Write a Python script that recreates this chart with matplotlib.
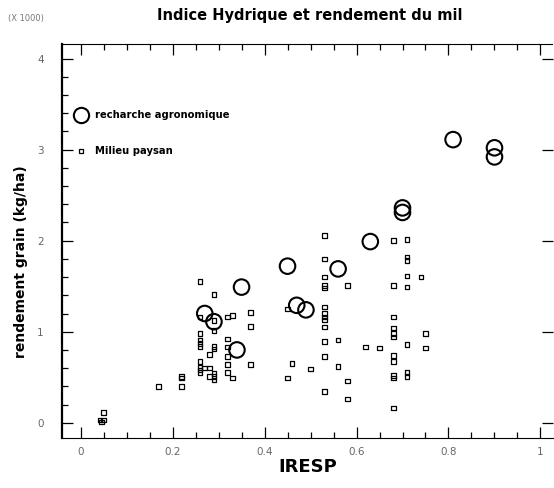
import matplotlib
matplotlib.use("Agg")
import matplotlib.pyplot as plt
from matplotlib.lines import Line2D
from matplotlib.ticker import MultipleLocator

# Recherche agronomique (large circles)
res_x = [0.27, 0.29, 0.35, 0.34, 0.45, 0.47, 0.49, 0.56, 0.63, 0.70, 0.70, 0.81, 0.90, 0.90]
res_y = [1.20, 1.11, 1.49, 0.80, 1.72, 1.29, 1.24, 1.69, 1.99, 2.36, 2.31, 3.11, 3.02, 2.92]

# Milieu paysan (small squares)
pay_x = [0.26, 0.29, 0.26, 0.32, 0.33, 0.37, 0.37, 0.29, 0.29, 0.26, 0.26, 0.26, 0.26,
         0.29, 0.29, 0.32, 0.32, 0.32, 0.28, 0.26, 0.26, 0.26, 0.26, 0.27, 0.28, 0.32,
         0.32, 0.29, 0.29, 0.29, 0.28, 0.33, 0.37, 0.22, 0.22, 0.22, 0.17, 0.042, 0.05,
         0.045, 0.05, 0.45, 0.46, 0.45, 0.50,
         0.53, 0.53, 0.53, 0.53, 0.53, 0.58, 0.53, 0.53, 0.53, 0.53, 0.53, 0.53, 0.56,
         0.53, 0.56, 0.53, 0.58, 0.58, 0.62, 0.65, 0.68, 0.71, 0.71, 0.71, 0.71, 0.74,
         0.68, 0.71, 0.68, 0.68, 0.68, 0.68, 0.75, 0.71, 0.75, 0.68, 0.68, 0.68, 0.68,
         0.71, 0.71, 0.68]
pay_y = [1.55, 1.41, 1.16, 1.16, 1.18, 1.21, 1.06, 1.12, 1.01, 0.98, 0.91, 0.87, 0.84,
         0.84, 0.81, 0.92, 0.83, 0.73, 0.75, 0.67, 0.61, 0.58, 0.55, 0.60, 0.60, 0.64,
         0.55, 0.54, 0.51, 0.47, 0.51, 0.49, 0.64, 0.51, 0.49, 0.40, 0.40, 0.03, 0.03,
         0.01, 0.11, 1.25, 0.65, 0.49, 0.59,
         2.06, 1.80, 1.60, 1.51, 1.48, 1.51, 1.27, 1.20, 1.16, 1.13, 1.05, 0.89, 0.91,
         0.73, 0.62, 0.34, 0.46, 0.26, 0.83, 0.82, 2.00, 2.01, 1.82, 1.78, 1.61, 1.60,
         1.51, 1.49, 1.16, 1.04, 0.98, 0.94, 0.98, 0.86, 0.82, 0.74, 0.67, 0.52, 0.49,
         0.55, 0.51, 0.16]

x_ticks = [0, 0.2, 0.4, 0.6, 0.8, 1]
x_labels = ["0", "0.2", "0.4", "0.6", "0.8", "1"]
y_ticks = [0, 1, 2, 3, 4]

plt.rcParams["font.family"] = ["DejaVu Sans"]

fig = plt.figure(figsize=(5.54, 4.88), dpi=100)
ax = fig.add_axes([0.1114, 0.1018, 0.8866, 0.808])

ax.scatter(pay_x, pay_y, marker="s", s=11, facecolors="none",
           edgecolors="black", linewidths=0.9, zorder=2)
ax.scatter(res_x, res_y, marker="o", s=125, facecolors="none",
           edgecolors="black", linewidths=1.5, zorder=3)

ax.set_xlim(-0.041, 1.027)
ax.set_ylim(-0.171, 4.16)

#  Ticks
ax.set_xticks(x_ticks)
ax.set_xticklabels(x_labels)
ax.set_yticks(y_ticks)
ax.xaxis.set_minor_locator(MultipleLocator(0.05))
ax.yaxis.set_minor_locator(MultipleLocator(0.2))
ax.tick_params(axis="both", which="major", direction="in", length=8, width=0.9,
               labelsize=7.5, labelcolor="#666666", pad=6)
ax.tick_params(axis="y", which="major", pad=13)
ax.tick_params(axis="both", which="minor", direction="in", length=4, width=0.9)
ax.tick_params(axis="x", which="both", top=True)
ax.tick_params(axis="y", which="major", right=True)

#  Spines
ax.spines["left"].set_linewidth(1.6)
ax.spines["bottom"].set_linewidth(0.8)
ax.spines["top"].set_linewidth(0.8)
ax.spines["top"].set_linestyle((0, (1, 1)))
ax.spines["right"].set_visible(False)

#  Labels and titles
ax.set_xlabel("IRESP", fontsize=13, fontweight="bold", labelpad=1)
ax.set_ylabel("rendement grain (kg/ha)", fontsize=10, fontweight="bold")
ax.yaxis.set_label_coords(-0.068, 0.447)
fig.text(0.56, 0.968, "Indice Hydrique et rendement du mil", ha="center",
         va="center", fontsize=10.5, fontweight="bold")
fig.text(0.014, 0.963, "(X 1000)", ha="left", va="center", fontsize=6,
         color="#777777")

#  Legend
handles = [
    Line2D([], [], linestyle="none", marker="o", markersize=11,
           markerfacecolor="none", markeredgecolor="black", markeredgewidth=1.5),
    Line2D([], [], linestyle="none", marker="s", markersize=3.4,
           markerfacecolor="none", markeredgecolor="black", markeredgewidth=0.9),
]
leg = ax.legend(handles, ["recharche agronomique", "Milieu paysan"],
                loc="upper left", bbox_to_anchor=(0.008, 0.855), frameon=False,
                labelspacing=2.6, handletextpad=0.8, handlelength=1.2,
                prop={"size": 7.2, "weight": "bold"})

fig.savefig("out.png", dpi=100, facecolor="white")
